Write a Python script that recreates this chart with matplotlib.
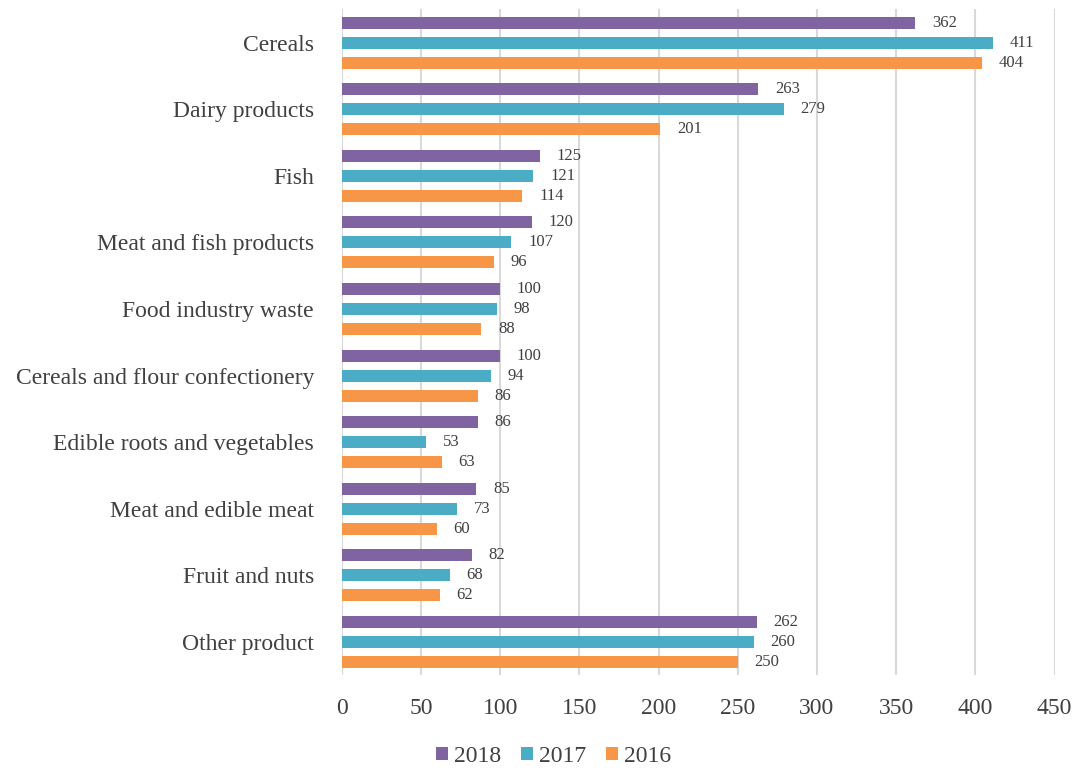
import matplotlib
matplotlib.use("Agg")
import matplotlib.pyplot as plt
import numpy as np

categories = ["Cereals", "Dairy products", "Fish", "Meat and fish products",
              "Food industry waste", "Cereals and flour confectionery",
              "Edible roots and vegetables", "Meat and edible meat",
              "Fruit and nuts", "Other product"]
years = ["2018", "2017", "2016"]
v2018 = [362, 263, 125, 120, 100, 100, 86, 85, 82, 262]
v2017 = [411, 279, 121, 107, 98, 94, 53, 73, 68, 260]
v2016 = [404, 201, 114, 96, 88, 86, 63, 60, 62, 250]
colors = ["#8064A2", "#4BACC6", "#F79646"]
xticks = [0, 50, 100, 150, 200, 250, 300, 350, 400, 450]

plt.rcParams["font.family"] = ["Liberation Serif", "DejaVu Serif"]
text_color = "#404040"

fig = plt.figure(figsize=(10.75, 7.7), dpi=100)
ax = fig.add_axes([0.318, 0.123, 0.663, 0.865])

y = np.arange(len(categories))
h = 0.18
offsets = [-0.3, 0.0, 0.3]
for vals, off, col, lab in zip([v2018, v2017, v2016], offsets, colors, years):
    bars = ax.barh(y + off, vals, height=h, color=col, label=lab, zorder=3)
    ax.bar_label(bars, labels=[str(v) for v in vals], padding=12,
                 fontsize=12, color=text_color)

ax.set_ylim(len(categories) - 0.5, -0.5)
ax.set_xlim(0, 450)
ax.set_xticks(xticks)
ax.set_xticklabels([str(t) for t in xticks])
ax.set_yticks(y)
ax.set_yticklabels(categories)
ax.tick_params(axis="x", length=0, labelsize=17, labelcolor=text_color, pad=16)
ax.tick_params(axis="y", length=0, labelsize=17, labelcolor=text_color, pad=20)
ax.grid(axis="x", color="#D9D9D9", linewidth=1.5, zorder=0)
for s in ax.spines.values():
    s.set_visible(False)

leg = fig.legend(loc="center", bbox_to_anchor=(0.515, 0.018), ncol=3,
                 frameon=False, fontsize=17, handlelength=0.5, handleheight=0.5,
                 handletextpad=0.25, columnspacing=0.85, labelcolor=text_color)

fig.savefig("out.png", dpi=100)
